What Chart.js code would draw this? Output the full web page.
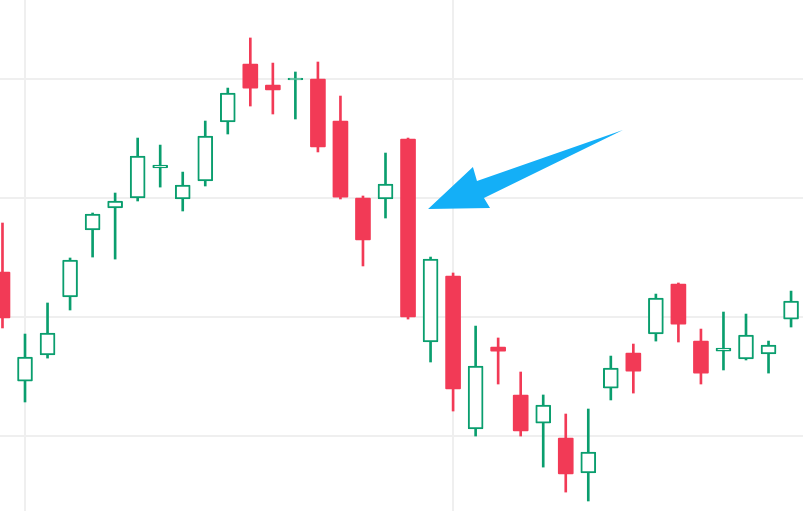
<!DOCTYPE html>
<html>
<head>
<meta charset="utf-8">
<script src="https://cdn.jsdelivr.net/npm/chart.js@4/dist/chart.umd.min.js"></script>
<style>
  html, body { margin: 0; padding: 0; background: #ffffff; }
  #wrap { width: 803px; height: 511px; position: relative; }
</style>
</head>
<body>
<div id="wrap"><canvas id="candles"></canvas></div>
<script>
// candle index (x) and OHLC values
const days   = [0, 1, 2, 3, 4, 5, 6, 7, 8, 9, 10, 11, 12, 13, 14, 15, 16, 17, 18, 19, 20, 21, 22, 23, 24, 25, 26, 27, 28, 29, 30, 31, 32, 33, 34, 35];
const opens  = [113.78, 104.62, 106.81, 111.68, 117.31, 119.16, 120.00, 122.52, 119.92, 121.43, 126.39, 131.26, 129.50, 129.92, 130.00, 126.47, 120.00, 119.92, 124.96, 107.90, 113.45, 100.59, 107.48, 103.45, 101.09, 99.83, 96.89, 104.03, 106.97, 108.57, 112.77, 107.98, 107.14, 106.47, 106.89, 109.83];
const highs  = [117.90, 108.57, 111.18, 114.96, 118.74, 120.42, 125.04, 124.45, 122.18, 126.47, 129.24, 133.45, 131.34, 130.59, 131.43, 128.57, 120.17, 123.78, 125.04, 115.04, 113.70, 109.24, 108.24, 105.38, 103.45, 101.85, 102.27, 106.72, 107.73, 111.93, 112.86, 108.99, 110.42, 110.25, 107.98, 112.18];
const lows   = [109.08, 102.86, 106.55, 110.59, 115.04, 114.87, 119.75, 120.92, 118.91, 121.01, 125.38, 127.73, 127.06, 126.64, 123.87, 119.92, 114.29, 118.32, 109.83, 106.22, 102.10, 100.00, 104.37, 100.00, 97.39, 95.29, 94.54, 103.03, 103.61, 107.98, 107.90, 104.37, 105.55, 106.39, 105.29, 109.16];
const closes = [109.92, 106.64, 108.66, 114.79, 118.66, 119.75, 123.53, 122.77, 121.09, 125.21, 128.82, 129.24, 129.08, 130.08, 124.29, 120.08, 116.47, 121.18, 110.00, 114.87, 103.95, 105.88, 107.14, 100.42, 102.61, 96.81, 98.66, 105.71, 105.46, 111.60, 109.41, 105.29, 107.39, 108.49, 107.65, 111.34];

// grid positions (no labels shown in the picture)
const xGridTicks = [1, 20];
const yGridTicks = [100, 110, 120, 130];

// annotation arrow outline, in data units (x = candle index, y = price)
const arrowX = [27.54, 21.37, 21.64, 18.89, 20.88, 21.06];
const arrowY = [125.71, 120.00, 119.16, 119.08, 122.61, 121.43];

const UP = '#0a9e6e';
const DOWN = '#f23a56';
const ARROW = '#14aff7';
const GRID = '#efefef';

const isUp = days.map(i => closes[i] >= opens[i]);
const candleColor = isUp.map(u => u ? UP : DOWN);

const arrowPlugin = {
  id: 'arrow',
  afterDatasetsDraw(chart) {
    const { ctx, scales: { x, y } } = chart;
    ctx.save();
    ctx.beginPath();
    arrowX.forEach((v, i) => {
      const px = x.getPixelForValue(v);
      const py = y.getPixelForValue(arrowY[i]);
      if (i === 0) ctx.moveTo(px, py); else ctx.lineTo(px, py);
    });
    ctx.closePath();
    ctx.fillStyle = ARROW;
    ctx.fill();
    ctx.restore();
  }
};

const ctx = document.getElementById('candles').getContext('2d');
new Chart(ctx, {
  type: 'bar',
  data: {
    datasets: [
      {
        label: 'body',
        order: 0,
        data: days.map(i => ({ x: i, y: [opens[i], closes[i]] })),
        barThickness: 15,
        backgroundColor: isUp.map(u => u ? '#ffffff' : DOWN),
        borderColor: candleColor,
        borderWidth: isUp.map(u => u ? 2 : 0),
        borderSkipped: false,
        borderRadius: 1
      },
      {
        label: 'wick',
        order: 1,
        data: days.map(i => ({ x: i, y: [lows[i], highs[i]] })),
        barThickness: 2,
        backgroundColor: candleColor,
        borderWidth: 0
      }
    ]
  },
  options: {
    responsive: true,
    maintainAspectRatio: false,
    animation: false,
    grouped: false,
    layout: { padding: 0 },
    plugins: {
      legend: { display: false },
      tooltip: { enabled: false }
    },
    scales: {
      x: {
        type: 'linear',
        min: -0.11,
        max: 35.53,
        offset: false,
        grid: { color: GRID, lineWidth: 2, drawTicks: false, offset: false },
        border: { display: false },
        ticks: { display: false },
        afterBuildTicks: s => { s.ticks = xGridTicks.map(v => ({ value: v })); }
      },
      y: {
        min: 93.70,
        max: 136.64,
        grid: { color: GRID, lineWidth: 2, drawTicks: false },
        border: { display: false },
        ticks: { display: false },
        afterBuildTicks: s => { s.ticks = yGridTicks.map(v => ({ value: v })); }
      }
    }
  },
  plugins: [arrowPlugin]
});
</script>
</body>
</html>
